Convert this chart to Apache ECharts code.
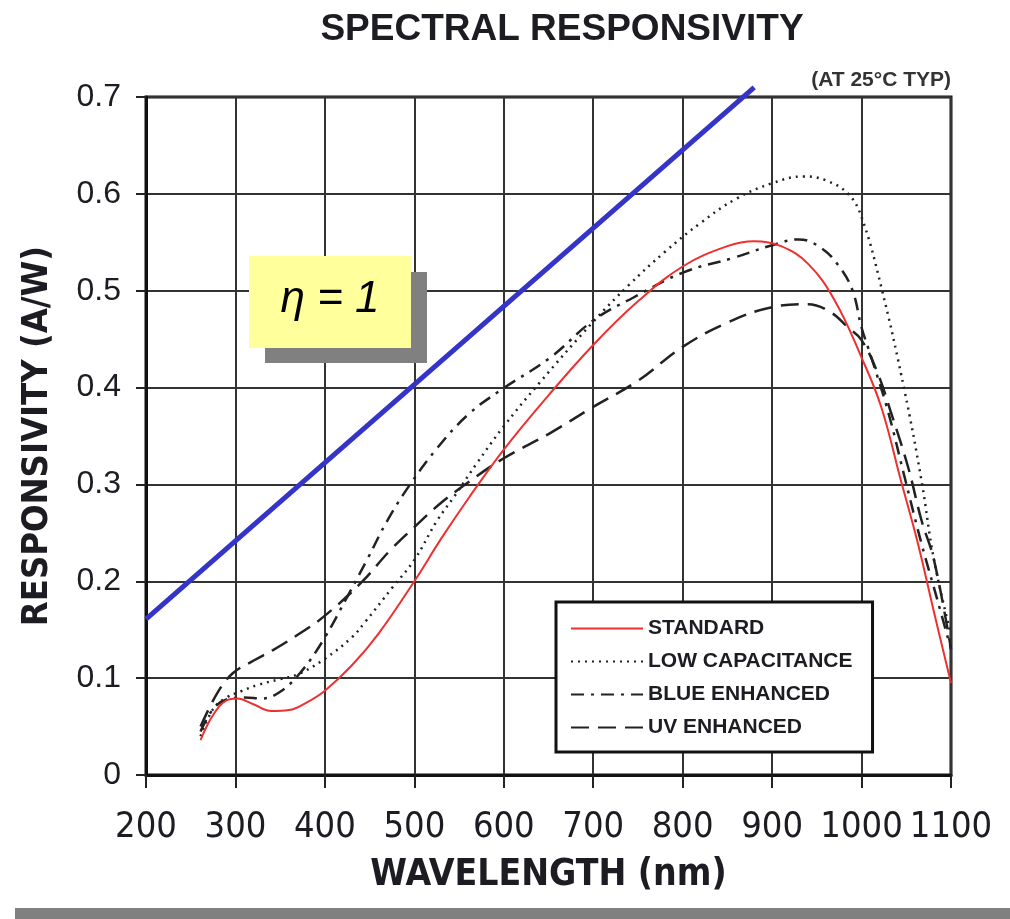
<!DOCTYPE html>
<html>
<head>
<meta charset="utf-8">
<style>
  html, body { margin: 0; padding: 0; background: #fff; }
  #chart { width: 1010px; height: 919px; }
</style>
<script src="https://cdn.jsdelivr.net/npm/echarts@6.0.0/dist/echarts.min.js"></script>
</head>
<body>
<div id="chart"></div>
<script>
// wavelength (nm), responsivity (A/W)
const standard = [
  [261, 0.036], [275, 0.062], [290, 0.077], [302, 0.079], [320, 0.073], [340, 0.066],
  [360, 0.067], [380, 0.075], [400, 0.087], [430, 0.113], [460, 0.146], [500, 0.200],
  [530, 0.244], [560, 0.285], [600, 0.336], [650, 0.392], [700, 0.444], [750, 0.489],
  [800, 0.525], [850, 0.546], [880, 0.551], [910, 0.546], [940, 0.528], [970, 0.490],
  [1000, 0.431], [1022, 0.380], [1044, 0.304], [1063, 0.239], [1080, 0.172], [1100, 0.095]
];
const lowCapacitance = [
  [261, 0.040], [275, 0.068], [290, 0.080], [305, 0.086], [325, 0.093], [350, 0.099],
  [370, 0.104], [400, 0.120], [430, 0.142], [445, 0.158], [475, 0.193], [500, 0.222],
  [525, 0.262], [545, 0.288], [570, 0.322], [600, 0.360], [640, 0.405], [700, 0.468],
  [740, 0.506], [780, 0.540], [820, 0.570], [860, 0.595], [900, 0.611], [935, 0.618],
  [960, 0.614], [985, 0.600], [1000, 0.576], [1022, 0.504], [1048, 0.397], [1067, 0.304],
  [1081, 0.222], [1100, 0.145]
];
const blueEnhanced = [
  [261, 0.045], [275, 0.068], [290, 0.078], [310, 0.080], [330, 0.079], [350, 0.086],
  [372, 0.105], [398, 0.139], [425, 0.184], [447, 0.222], [470, 0.263], [496, 0.301],
  [526, 0.338], [560, 0.372], [596, 0.397], [652, 0.431], [701, 0.470], [745, 0.493],
  [801, 0.519], [857, 0.534], [900, 0.547], [930, 0.553], [955, 0.544], [975, 0.525],
  [990, 0.500], [1000, 0.462], [1011, 0.431], [1030, 0.374], [1048, 0.308], [1067, 0.239],
  [1085, 0.180], [1100, 0.130]
];
const uvEnhanced = [
  [261, 0.050], [280, 0.085], [297, 0.105], [320, 0.118], [342, 0.129], [370, 0.145],
  [398, 0.163], [440, 0.198], [473, 0.232], [500, 0.256], [530, 0.281], [560, 0.302],
  [600, 0.327], [650, 0.352], [700, 0.380], [750, 0.407], [800, 0.442], [850, 0.467],
  [900, 0.483], [940, 0.486], [965, 0.478], [985, 0.462], [1000, 0.449], [1018, 0.415],
  [1033, 0.374], [1052, 0.318], [1067, 0.263], [1081, 0.222], [1100, 0.130]
];
// ideal quantum efficiency line, eta = 1
const etaOne = [[200, 0.161], [880, 0.71]];

const seriesNames = ['STANDARD', 'LOW CAPACITANCE', 'BLUE ENHANCED', 'UV ENHANCED'];

const narrow = '"Liberation Sans Narrow", "DejaVu Sans Condensed", "Liberation Sans", sans-serif';
const sans = '"Liberation Sans", Arial, sans-serif';
const ink = '#1c1c22';

const chart = echarts.init(document.getElementById('chart'));

const option = {
  backgroundColor: '#fff',
  animation: false,
  title: [
    {
      text: 'SPECTRAL RESPONSIVITY',
      left: 557,
      top: 6,
      textAlign: 'center',
      textStyle: { fontFamily: sans, fontWeight: 'bold', fontSize: 37, color: ink },
    },
    {
      text: '(AT 25°C TYP)',
      right: 54,
      top: 65,
      textStyle: { fontFamily: sans, fontWeight: 'bold', fontSize: 21, color: '#333' },
    },
  ],
  grid: {
    left: 146,
    right: 59,
    top: 97,
    bottom: 144,
    show: true,
    borderColor: '#111',
    borderWidth: 3,
  },
  legend: {
    data: seriesNames,
    orient: 'vertical',
    left: 556,
    top: 602,
    padding: [16, 20, 14, 14],
    itemGap: 12,
    itemWidth: 72,
    itemHeight: 22,
    backgroundColor: '#fff',
    borderColor: '#111',
    borderWidth: 3,
    borderRadius: 0,
    itemStyle: { color: 'transparent', opacity: 0, borderWidth: 0 },
    textStyle: { fontFamily: sans, fontWeight: 'bold', fontSize: 21, color: ink },
  },
  xAxis: {
    type: 'value',
    min: 200,
    max: 1100,
    interval: 100,
    name: 'WAVELENGTH (nm)',
    nameLocation: 'middle',
    nameGap: 82,
    nameTextStyle: { fontFamily: narrow, fontWeight: 'bold', fontSize: 37, color: ink },
    axisLine: { show: true, onZero: false, lineStyle: { color: '#111', width: 3 } },
    axisTick: { show: true, length: 13, lineStyle: { color: '#222', width: 2 } },
    axisLabel: {
      margin: 35,
      fontFamily: narrow,
      fontSize: 36,
      color: ink,
      showMinLabel: true,
      showMaxLabel: true,
      hideOverlap: false,
      formatter: (v) => String(v),
    },
    splitLine: { show: true, lineStyle: { color: '#333', width: 2 } },
  },
  yAxis: {
    type: 'value',
    min: 0,
    max: 0.7,
    interval: 0.1,
    name: 'RESPONSIVITY (A/W)',
    nameLocation: 'middle',
    nameGap: 90,
    nameTextStyle: { fontFamily: narrow, fontWeight: 'bold', fontSize: 36, color: ink },
    axisLine: { show: true, lineStyle: { color: '#111', width: 3 } },
    axisTick: { show: true, length: 10, lineStyle: { color: '#222', width: 2 } },
    axisLabel: {
      margin: 25,
      fontFamily: sans,
      fontSize: 32,
      color: ink,
      formatter: (v) => (v === 0 ? '0' : v.toFixed(1)),
    },
    splitLine: { show: true, lineStyle: { color: '#333', width: 2 } },
  },
  series: [
    {
      name: 'STANDARD',
      type: 'line',
      data: standard,
      smooth: 0.4,
      symbol: 'none',
      lineStyle: { color: '#ee3030', width: 2 },
      itemStyle: { color: '#ee3030' },
      z: 5,
    },
    {
      name: 'LOW CAPACITANCE',
      type: 'line',
      data: lowCapacitance,
      smooth: 0.4,
      symbol: 'none',
      lineStyle: { color: '#222', width: 2.5, type: [2, 5] },
      itemStyle: { color: '#222' },
    },
    {
      name: 'BLUE ENHANCED',
      type: 'line',
      data: blueEnhanced,
      smooth: 0.4,
      symbol: 'none',
      lineStyle: { color: '#222', width: 2.5, type: [13, 7, 3, 7] },
      itemStyle: { color: '#222' },
    },
    {
      name: 'UV ENHANCED',
      type: 'line',
      data: uvEnhanced,
      smooth: 0.4,
      symbol: 'none',
      lineStyle: { color: '#222', width: 2.5, type: [18, 9] },
      itemStyle: { color: '#222' },
    },
    {
      name: 'eta',
      type: 'line',
      data: etaOne,
      symbol: 'none',
      clip: false,
      lineStyle: { color: '#3434c8', width: 5 },
      z: 6,
    },
  ],
  graphic: [
    {
      type: 'rect',
      shape: { x: 265, y: 272, width: 162, height: 91 },
      style: { fill: '#808080' },
      z: 100,
    },
    {
      type: 'rect',
      shape: { x: 249, y: 256, width: 162, height: 92 },
      style: { fill: '#ffff9c' },
      z: 101,
    },
    {
      type: 'text',
      x: 330,
      y: 300,
      style: {
        text: 'η = 1',
        fontFamily: sans,
        fontStyle: 'italic',
        fontSize: 44,
        fill: '#000',
        align: 'center',
        verticalAlign: 'middle',
      },
      z: 102,
    },
    {
      type: 'rect',
      shape: { x: 15, y: 908, width: 995, height: 11 },
      style: { fill: '#808080' },
      z: 100,
    },
  ],
};

chart.setOption(option);
</script>
</body>
</html>
